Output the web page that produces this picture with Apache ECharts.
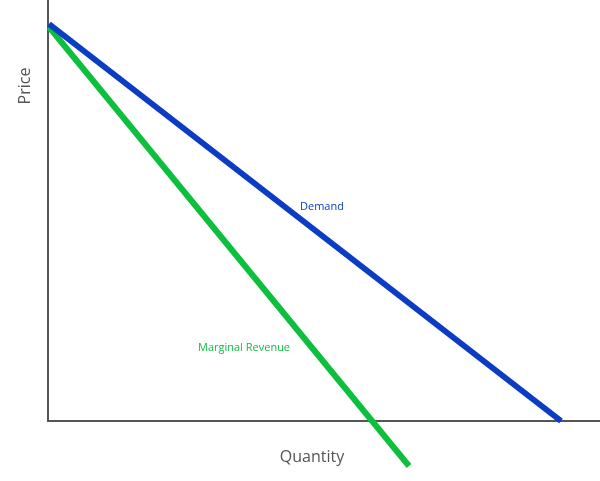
<!DOCTYPE html>
<html>
<head>
<meta charset="utf-8">
<script src="https://cdn.jsdelivr.net/npm/echarts@6/dist/echarts.min.js"></script>
<style>html,body{margin:0;padding:0;background:#fff;}#c{width:600px;height:481px;}</style>
</head>
<body>
<div id="c"></div>
<script>
// Data (quantity, price) in chart units
const demandPoints = [[1, 397], [513, 0]];
const mrPoints = [[1, 394], [361, -45]];
const xLabel = 'Quantity';
const yLabel = 'Price';
const demandLabel = 'Demand';
const mrLabel = 'Marginal Revenue';

const chart = echarts.init(document.getElementById('c'));
const font = '"Open Sans", sans-serif';
chart.setOption({
  animation: false,
  backgroundColor: '#ffffff',
  grid: { left: 48, right: 0, top: 0, bottom: 60 },
  xAxis: {
    type: 'value', min: 0, max: 552,
    axisLine: { show: true, lineStyle: { color: '#555', width: 2 } },
    axisTick: { show: false }, axisLabel: { show: false }, splitLine: { show: false }
  },
  yAxis: {
    type: 'value', min: 0, max: 421,
    axisLine: { show: true, lineStyle: { color: '#555', width: 2 } },
    axisTick: { show: false }, axisLabel: { show: false }, splitLine: { show: false }
  },
  series: [
    {
      name: demandLabel, type: 'line', data: demandPoints, symbol: 'none', clip: false,
      lineStyle: { color: '#0b3cc4', width: 6 }, z: 3
    },
    {
      name: mrLabel, type: 'line', data: mrPoints, symbol: 'none', clip: false,
      lineStyle: { color: '#0cbf3c', width: 6 }, z: 2
    }
  ],
  graphic: [
    { type: 'text', left: 300, top: 201, style: { text: demandLabel, fill: '#0b3cc4', font: '11px ' + font } },
    { type: 'text', left: 198, top: 342, style: { text: mrLabel, fill: '#0cbf3c', font: '11px ' + font } },
    { type: 'text', x: 312, y: 457, style: { text: xLabel, fill: '#555', font: '16px ' + font, textAlign: 'center', textVerticalAlign: 'middle' } },
    { type: 'text', x: 25, y: 86, rotation: Math.PI / 2, style: { text: yLabel, fill: '#555', font: '16px ' + font, textAlign: 'center', textVerticalAlign: 'middle' } }
  ]
});
</script>
</body>
</html>
